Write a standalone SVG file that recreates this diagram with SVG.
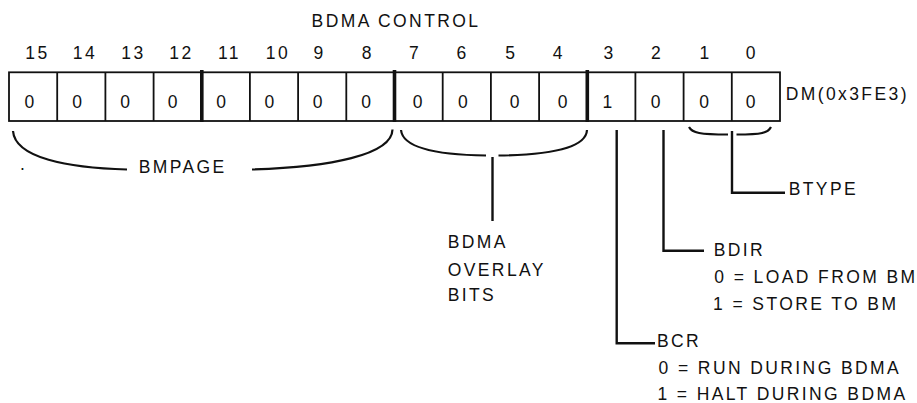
<svg xmlns="http://www.w3.org/2000/svg" width="917" height="403" viewBox="0 0 917 403">
<style>
text{font-family:"Liberation Sans",Arial,sans-serif;font-size:17.5px;letter-spacing:2.4px;fill:#111}
.m{text-anchor:middle}
.cell{fill:none;stroke:#111;stroke-width:1.8}
.grp{stroke:#111;stroke-width:3.6}
.ln{fill:none;stroke:#111;stroke-width:2.4}
.br{fill:none;stroke:#111;stroke-width:2.2}
</style>
<rect width="917" height="403" fill="#fff"/>
<g id="title"><text x="311.6" y="27">BDMA CONTROL</text></g>
<g id="bit-numbers" class="m">
<text class="m" x="37.5" y="59">15</text>
<text class="m" x="84.9" y="59">14</text>
<text class="m" x="133.4" y="59">13</text>
<text class="m" x="181.5" y="59">12</text>
<text class="m" x="229.5" y="59">11</text>
<text class="m" x="277.9" y="59">10</text>
<text class="m" x="319.5" y="59">9</text>
<text class="m" x="367.9" y="59">8</text>
<text class="m" x="415" y="59">7</text>
<text class="m" x="462.5" y="59">6</text>
<text class="m" x="511.2" y="59">5</text>
<text class="m" x="558.9" y="59">4</text>
<text class="m" x="609.5" y="59">3</text>
<text class="m" x="657" y="59">2</text>
<text class="m" x="705.5" y="59">1</text>
<text class="m" x="751.7" y="59">0</text>
</g>
<g id="register">
<rect class="cell" x="9" y="72.3" width="771" height="48.7" stroke-width="2.2"/>
<path class="cell" d="M57.2 72.3V121M105.4 72.3V121M153.6 72.3V121M249.9 72.3V121M298.1 72.3V121M346.3 72.3V121M442.7 72.3V121M490.9 72.3V121M539.1 72.3V121M635.4 72.3V121M683.6 72.3V121M731.8 72.3V121"/>
<path class="grp" d="M201.8 70V122M394.5 70V122M587.3 70V122"/>
<text class="m" x="30.5" y="107.7">0</text>
<text class="m" x="78.2" y="107.7">0</text>
<text class="m" x="126.2" y="107.7">0</text>
<text class="m" x="173.9" y="107.7">0</text>
<text class="m" x="222.2" y="107.7">0</text>
<text class="m" x="270.5" y="107.7">0</text>
<text class="m" x="318.9" y="107.7">0</text>
<text class="m" x="367.2" y="107.7">0</text>
<text class="m" x="418.9" y="107.7">0</text>
<text class="m" x="464" y="107.7">0</text>
<text class="m" x="515.9" y="107.7">0</text>
<text class="m" x="563.7" y="107.7">0</text>
<text class="m" x="608.5" y="107.7">1</text>
<text class="m" x="656.7" y="107.7">0</text>
<text class="m" x="705.4" y="107.7">0</text>
<text class="m" x="751.7" y="107.7">0</text>
<text x="785.7" y="99.5">DM(0x3FE3)</text>
</g>
<g id="connectors">
<path class="br" d="M13 131C15 158 68 168 127 169.5"/>
<path class="br" d="M252 169.5C330 167 392 155 392.5 129.5"/>
<path class="br" d="M401 130C403 150 446 155 486 155.5"/>
<path class="br" d="M498.5 155.5C540 155 586 150 587 130"/>
<path class="br" d="M689 127C692 133 700 134.5 728 134.5"/>
<path class="br" d="M736.5 134.5C762 134.5 768 133 771 127"/>
<path class="ln" d="M492.5 157V221"/>
<path class="ln" d="M732 131V192.7H785"/>
<path class="ln" d="M663.5 130V250.7H704"/>
<path class="ln" d="M616.7 130V343.3H655"/>
</g>
<g id="bmpage"><text x="20" y="170">.</text><text x="138.7" y="173">BMPAGE</text></g>
<g id="overlay">
<text x="447.7" y="248.3">BDMA</text>
<text x="447.7" y="275.5">OVERLAY</text>
<text x="447.7" y="300.7">BITS</text>
</g>
<g id="btype"><text x="788.7" y="195">BTYPE</text></g>
<g id="bdir">
<text x="713.7" y="256">BDIR</text>
<text x="714.3" y="282.7">0 = LOAD FROM BM</text>
<text x="713.1" y="310">1 = STORE TO BM</text>
</g>
<g id="bcr">
<text x="657" y="347.3">BCR</text>
<text x="658.6" y="374.3">0 = RUN DURING BDMA</text>
<text x="657.4" y="400">1 = HALT DURING BDMA</text>
</g>
</svg>
